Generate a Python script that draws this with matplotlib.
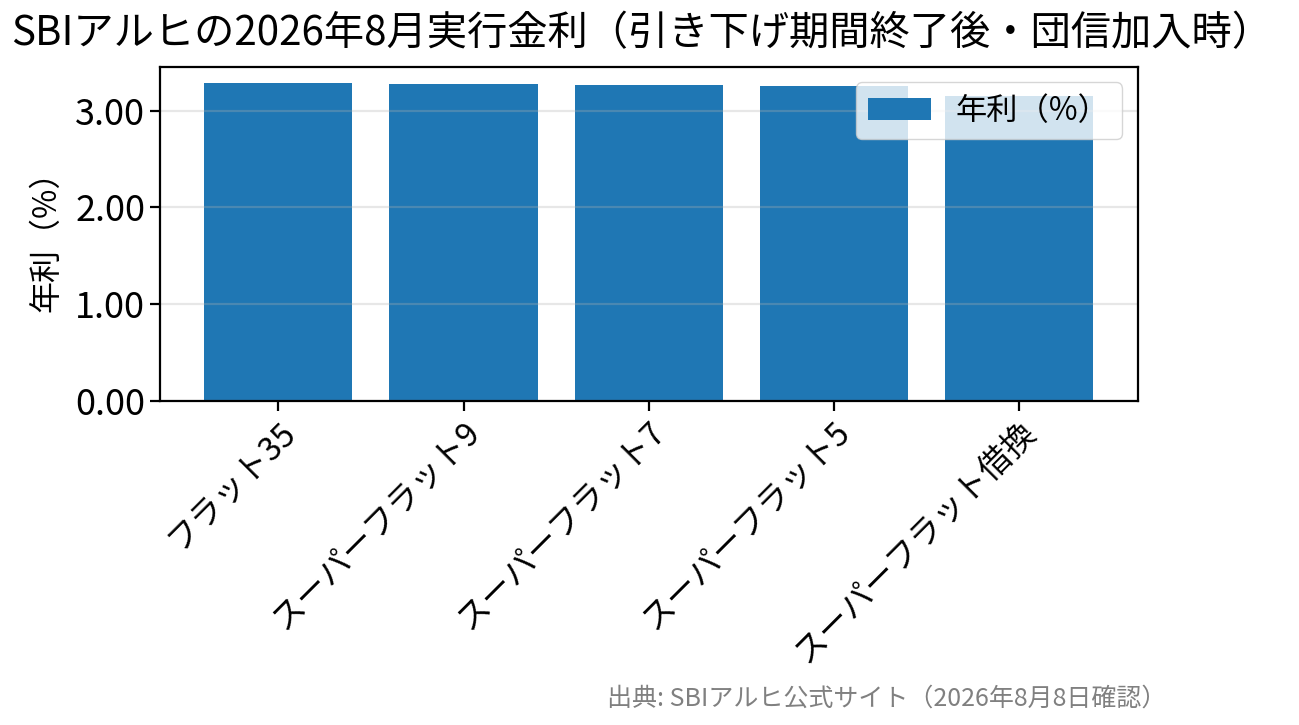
import matplotlib.pyplot as plt

plt.rcParams['font.family'] = ['Noto Sans CJK JP', 'DejaVu Sans']

products = ['フラット35', 'スーパーフラット9', 'スーパーフラット7', 'スーパーフラット5', 'スーパーフラット借換']
rates = [3.29, 3.28, 3.27, 3.25, 3.15]

fig = plt.figure(figsize=(12.99, 7.25), dpi=100)
ax = fig.add_axes([0.123, 0.447, 0.753, 0.461])

ax.bar(products, rates, color='#1f77b4', label='年利（%）')
ax.set_ylabel('年利（%）', fontsize=23)
ax.yaxis.set_label_coords(-0.100, 0.5)
ax.yaxis.set_major_formatter(plt.FormatStrFormatter('%.2f'))
ax.tick_params(axis='both', length=7, width=1.6)
ax.tick_params(axis='x', labelsize=23.5)
ax.tick_params(axis='y', labelsize=26)
plt.setp(ax.get_xticklabels(), rotation=45, ha='right', rotation_mode='anchor')
ax.grid(axis='y', alpha=0.3, linewidth=1.6)
for s in ax.spines.values():
    s.set_linewidth(1.6)
ax.legend(loc='upper right', fontsize=22.5)

fig.text(0.494, 0.953, 'SBIアルヒの2026年8月実行金利（引き下げ期間終了後・団信加入時）',
         ha='center', va='center', fontsize=29)
fig.text(0.898, 0.037, '出典: SBIアルヒ公式サイト（2026年8月8日確認）',
         ha='right', va='center', fontsize=18, color='gray')

fig.savefig('out.png', dpi=100)
